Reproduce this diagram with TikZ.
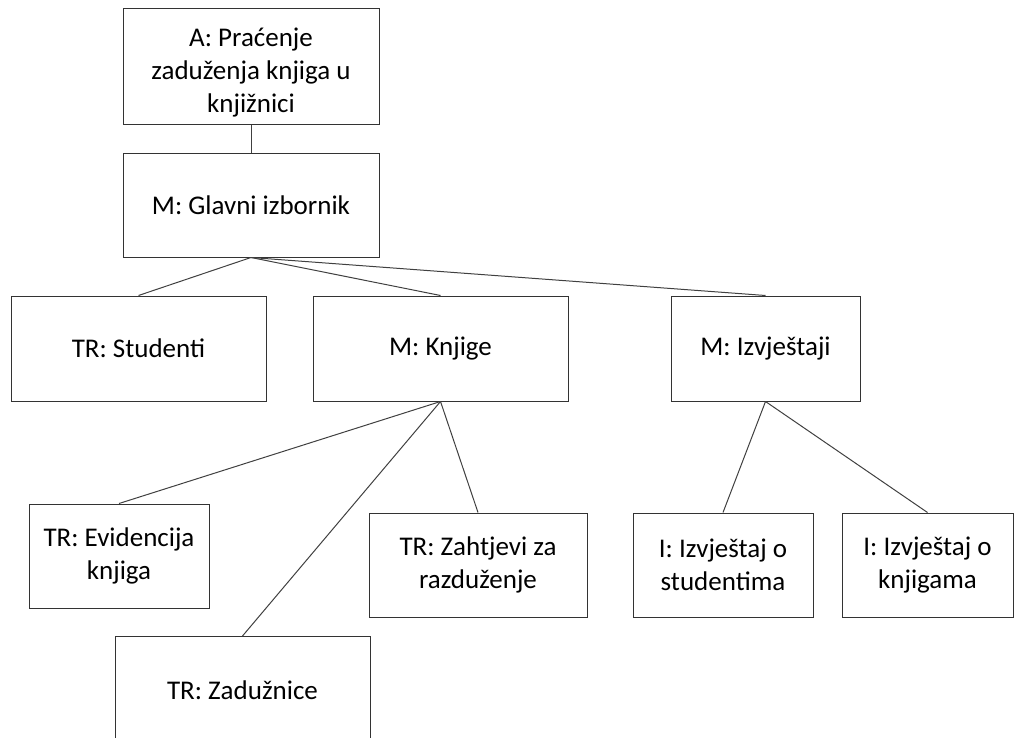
\documentclass[tikz,border=0pt]{standalone}
\usepackage{fontspec}
\setmainfont{Carlito}
\usepackage{tikz}
\usetikzlibrary{positioning}

\begin{document}
\begin{tikzpicture}[x=1pt, y=-1pt,
	every node/.style={font=\fontsize{27}{33}\selectfont},
	box/.style={draw=black!80, line width=1pt, rectangle, align=center,
	inner sep=0pt, text=black},
	link/.style={draw=black!75, line width=1pt, -}]
	\useasboundingbox (0,0) rectangle (1019,738);
	\node [box, minimum width=256pt, minimum height=116pt] (A_0) at (251,67)
	{\rule{0pt}{30pt}A: Praćenje\\zaduženja knjiga u\\knjižnici};
	\node [box, minimum width=256pt, minimum height=103pt] (M_0) at (251,205.5)
	{M: Glavni izbornik};
	%%
	\node [box, minimum width=255pt, minimum height=105pt] (TR_1) at (138.5,348.5)
	{TR: Studenti};
	\node [box, minimum width=255pt, minimum height=105pt] (M_1) at (440.5,348.5)
	{M: Knjige};
	\node [box, minimum width=189pt, minimum height=105pt] (M_2) at (765.5,348.5)
	{M: Izvještaji};
	%%
	\node [box, minimum width=180pt, minimum height=104pt] (TR_2) at (119,556)
	{TR: Evidencija\\knjiga};
	\node [box, minimum width=218pt, minimum height=104pt] (TR_3) at (478,565)
	{TR: Zahtjevi za\\razduženje};
	\node [box, minimum width=255pt, minimum height=107pt] (TR_4) at (242.5,690)
	{TR: Zadužnice};
	\node [box, minimum width=180pt, minimum height=104pt] (I_1) at (723,565)
	{I: Izvještaj o\\studentima};
	\node [box, minimum width=171pt, minimum height=104pt] (I_2) at (927.5,565)
	{I: Izvještaj o\\knjigama};
	%% Links
	\path [link] (A_0) -- (M_0);
	\path [link] (M_0.south) -- (TR_1.north);
	\path [link] (M_0.south) -- (M_1.north);
	\path [link] (M_0.south) -- (M_2.north);
	%%
	\path [link] (M_1.south) -- (TR_2.north);
	\path [link] (M_1.south) -- (TR_4.north);
	\path [link] (M_1.south) -- (TR_3.north);
	\path [link] (M_2.south) -- (I_1.north);
	\path [link] (M_2.south) -- (I_2.north);
\end{tikzpicture}
\end{document}
